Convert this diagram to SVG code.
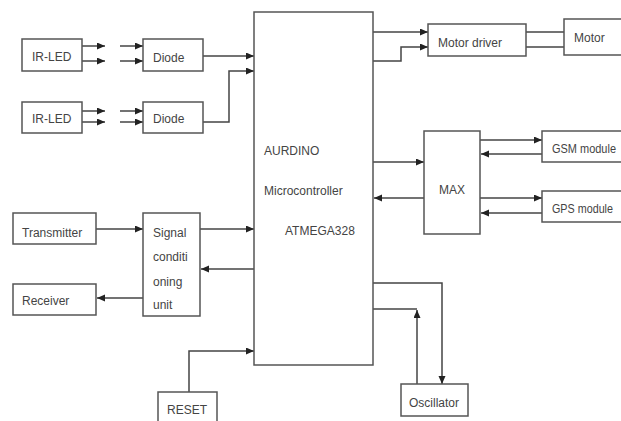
<svg xmlns="http://www.w3.org/2000/svg" width="621" height="421" viewBox="0 0 621 421">
<defs>
<marker id="ah" markerUnits="userSpaceOnUse" markerWidth="9" markerHeight="8" refX="8" refY="3.5" orient="auto">
<path d="M0,0 L8,3.5 L0,7 z" fill="#222"/>
</marker>
<style>
.box{fill:#fff;stroke:#555;stroke-width:1.5}
.lbl{font-family:"Liberation Sans",Arial,sans-serif;font-size:12px;fill:#444}
.c{fill:none;stroke:#444;stroke-width:1.5}
.a{marker-end:url(#ah)}
</style>
</defs>
<rect width="621" height="421" fill="#fff"/>
<g id="connectors">
<path class="c a" d="M82,46 H105"/>
<path class="c a" d="M82,61 H105"/>
<path class="c a" d="M120,46 H143"/>
<path class="c a" d="M120,61 H143"/>
<path class="c a" d="M82,111 H105"/>
<path class="c a" d="M82,122 H105"/>
<path class="c a" d="M120,111 H143"/>
<path class="c a" d="M120,122 H143"/>
<path class="c a" d="M203,56 H254"/>
<path class="c a" d="M203,122 H229 V71 H254"/>
<path class="c a" d="M373,32 H428"/>
<path class="c a" d="M373,61 H401 V47 H428"/>
<path class="c" d="M526,32 H564"/>
<path class="c" d="M526,47 H564"/>
<path class="c a" d="M373,162 H424"/>
<path class="c a" d="M424,198 H374"/>
<path class="c a" d="M480,140 H542"/>
<path class="c a" d="M542,154 H481"/>
<path class="c a" d="M480,198 H542"/>
<path class="c a" d="M542,213 H481"/>
<path class="c a" d="M96,229 H143"/>
<path class="c a" d="M200,229 H254"/>
<path class="c a" d="M254,269 H201"/>
<path class="c a" d="M143,298 H97"/>
<path class="c a" d="M189,392 V351 H254"/>
<path class="c a" d="M373,283 H442 V384"/>
<path class="c" d="M373,309 H417"/>
<path class="c a" d="M417,384 V310"/>
</g>
<g id="irled1"><rect class="box" x="22" y="39" width="60" height="32"/><text class="lbl" x="32" y="61">IR-LED</text></g>
<g id="irled2"><rect class="box" x="22" y="102" width="60" height="31"/><text class="lbl" x="32" y="123">IR-LED</text></g>
<g id="diode1"><rect class="box" x="143" y="39" width="60" height="32"/><text class="lbl" x="153" y="62">Diode</text></g>
<g id="diode2"><rect class="box" x="143" y="102" width="60" height="31"/><text class="lbl" x="153" y="123">Diode</text></g>
<g id="micro"><rect class="box" x="254" y="12" width="119" height="353"/>
<text class="lbl" x="264" y="155">AURDINO</text>
<text class="lbl" x="264" y="195">Microcontroller</text>
<text class="lbl" x="285" y="235">ATMEGA328</text></g>
<g id="motordriver"><rect class="box" x="428" y="24" width="98" height="32"/><text class="lbl" x="438" y="47">Motor driver</text></g>
<g id="motor"><rect class="box" x="564" y="19" width="70" height="36"/><text class="lbl" x="574" y="42">Motor</text></g>
<g id="max"><rect class="box" x="424" y="131" width="56" height="103"/><text class="lbl" x="439" y="194">MAX</text></g>
<g id="gsm"><rect class="box" x="542" y="131" width="90" height="31"/><text class="lbl" x="552" y="153" textLength="64" lengthAdjust="spacingAndGlyphs">GSM module</text></g>
<g id="gps"><rect class="box" x="542" y="191" width="90" height="31"/><text class="lbl" x="552" y="213" textLength="61" lengthAdjust="spacingAndGlyphs">GPS module</text></g>
<g id="transmitter"><rect class="box" x="13" y="213" width="83" height="31"/><text class="lbl" x="22" y="237">Transmitter</text></g>
<g id="signal"><rect class="box" x="143" y="213" width="57" height="103"/>
<text class="lbl" x="153" y="237">Signal</text>
<text class="lbl" x="153" y="261">conditi</text>
<text class="lbl" x="153" y="286">oning</text>
<text class="lbl" x="153" y="309">unit</text></g>
<g id="receiver"><rect class="box" x="13" y="284" width="83" height="31"/><text class="lbl" x="22" y="305">Receiver</text></g>
<g id="reset"><rect class="box" x="158" y="392" width="59" height="40"/><text class="lbl" x="167" y="414">RESET</text></g>
<g id="oscillator"><rect class="box" x="401" y="384" width="67" height="32"/><text class="lbl" x="409" y="407">Oscillator</text></g>
</svg>
